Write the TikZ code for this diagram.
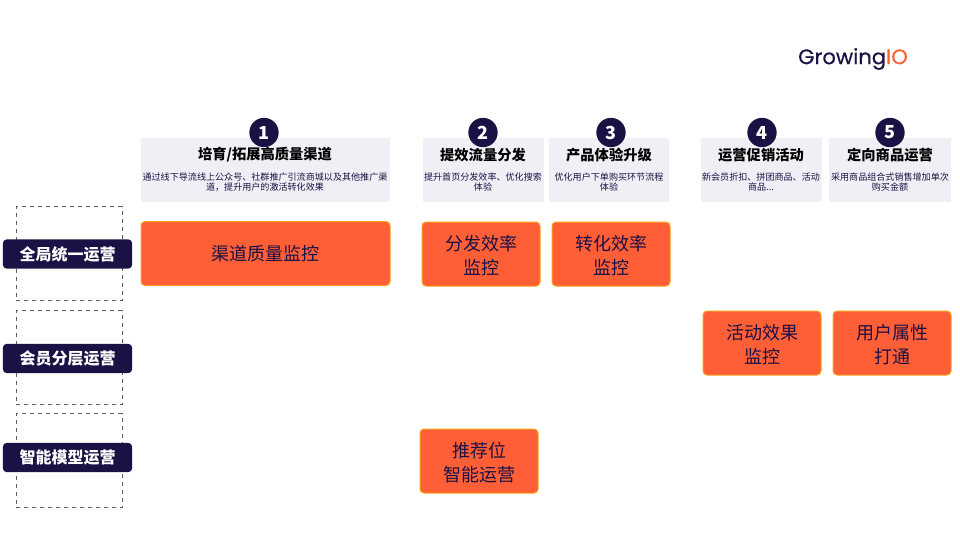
\documentclass[tikz,border=0pt]{standalone}
\usepackage{fontspec}
\setmainfont{Noto Sans CJK SC}
\newfontfamily\logofont[FakeBold=0.4]{Poppins}
\definecolor{navy}{HTML}{1B1145}
\definecolor{flame}{HTML}{FF5F36}
\definecolor{amber}{HTML}{F9A11B}
\definecolor{pale}{HTML}{EFF0F5}
\definecolor{dashgray}{HTML}{5F5B7C}
\begin{document}
\begin{tikzpicture}[x=0.75pt, y=-0.75pt,
  header/.style={rectangle, fill=pale, minimum height=48pt, inner sep=0pt},
  badge/.style={circle, fill=navy, text=white, minimum size=22pt, inner sep=0pt, font=\fontsize{13.5}{14}\selectfont\bfseries},
  headline/.style={font=\fontsize{10.7}{12}\selectfont\bfseries, text=black, inner sep=0pt},
  blurb/.style={font=\fontsize{6.8}{7.8}\selectfont, text=navy, align=center, inner sep=0pt},
  monitor/.style={rectangle, rounded corners=3pt, fill=flame, draw=amber, line width=0.75pt, text=navy, minimum width=88.5pt, minimum height=48pt, align=center, inner sep=0pt, font=\fontsize{13.5}{18.6}\selectfont, text height=31.2pt, text depth=0pt},
  tier/.style={rectangle, rounded corners=3pt, fill=navy, text=white, minimum width=97pt, minimum height=22pt, inner sep=0pt, font=\fontsize{12}{14}\selectfont\bfseries},
  frame/.style={rectangle, draw=dashgray, dashed, line width=0.6pt, minimum width=79.5pt, minimum height=70.5pt, inner sep=0pt}]

\useasboundingbox (0, 0) rectangle (960, 540);

% logo
\node[inner sep=0pt, font=\logofont\fontsize{15.8}{18}\selectfont] (logo) at (853, 59) {\textcolor{navy}{Growing}\textcolor{flame}{IO}};

% dashed frames and tiers
\node[frame] (frameglobal) at (69, 253.5) {};
\node[frame] (framemember) at (69, 357.5) {};
\node[frame] (framemodel) at (69, 460.5) {};
\node[tier] (global) at (67.5, 254) {全局统一运营};
\node[tier] (member) at (67.5, 358.5) {会员分层运营};
\node[tier] (model) at (67.5, 457.5) {智能模型运营};

% headers
\node[header, minimum width=186.75pt] (headone) at (265.5, 170) {};
\node[header, minimum width=90.75pt] (headtwo) at (483.5, 170) {};
\node[header, minimum width=90pt] (headthree) at (609, 170) {};
\node[header, minimum width=90.75pt] (headfour) at (761.5, 170) {};
\node[header, minimum width=91.5pt] (headfive) at (890, 170) {};

\node[badge] (one) at (264, 132.5) {1};
\node[badge] (two) at (483, 132.5) {2};
\node[badge] (three) at (611, 132.5) {3};
\node[badge] (four) at (762, 132.5) {4};
\node[badge] (five) at (890, 132.5) {5};

\node[headline] (titleone) at (265, 155) {培育/拓展高质量渠道};
\node[headline] (titletwo) at (483, 155) {提效流量分发};
\node[headline] (titlethree) at (609, 155) {产品体验升级};
\node[headline] (titlefour) at (761, 155) {运营促销活动};
\node[headline] (titlefive) at (890, 155) {定向商品运营};

\node[blurb] (textone) at (265, 182) {通过线下导流线上公众号、社群推广引流商城以及其他推广渠\\道，提升用户的激活转化效果};
\node[blurb] (texttwo) at (483, 182) {提升首页分发效率、优化搜索\\体验};
\node[blurb] (textthree) at (609, 182) {优化用户下单购买环节流程\\体验};
\node[blurb] (textfour) at (761, 182) {新会员折扣、拼团商品、活动\\商品...};
\node[blurb] (textfive) at (890, 182) {采用商品组合式销售增加单次\\购买金额};

% monitors
\node[monitor, minimum width=186.75pt, text height=11pt] (channel) at (265.5, 253.5) {渠道质量监控};
\node[monitor] (dispatch) at (481, 254) {分发效率\\监控};
\node[monitor] (convert) at (611, 254) {转化效率\\监控};
\node[monitor] (effect) at (762, 343) {活动效果\\监控};
\node[monitor] (profile) at (892, 343) {用户属性\\打通};
\node[monitor] (recommend) at (479, 461) {推荐位\\智能运营};
\end{tikzpicture}
\end{document}
